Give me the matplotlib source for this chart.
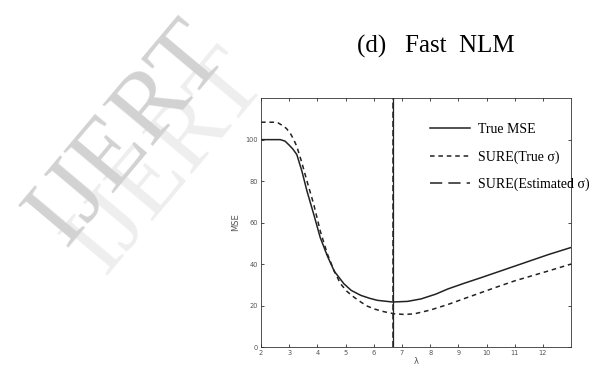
import numpy as np
import matplotlib.pyplot as plt
from matplotlib.lines import Line2D

# values
lam_true = [2.0, 2.68, 2.85, 2.98, 3.12, 3.27, 3.45, 3.63, 3.87, 4.1, 4.35, 4.6, 4.94,
            5.2, 5.54, 5.85, 6.13, 6.67, 7.2, 7.68, 8.2, 8.63, 9.2, 9.82, 10.4, 11.0,
            11.6, 12.2, 13.0]
mse_true = [100, 100, 99.3, 97.6, 95.6, 92.8, 84.8, 75.2, 64, 52.8, 44, 36.5, 30.5,
            27.3, 24.9, 23.5, 22.5, 21.7, 22.0, 23.2, 25.5, 28, 30.7, 33.5, 36.2, 39,
            41.8, 44.6, 48]

lam_sure = [2.0, 2.44, 2.6, 2.74, 2.9, 3.04, 3.15, 3.27, 3.45, 3.63, 3.87, 4.1, 4.35,
            4.6, 4.82, 5.05, 5.3, 5.55, 5.77, 6.05, 6.37, 6.73, 7.1, 7.44, 8.0, 8.63,
            9.2, 9.82, 10.4, 11.0, 11.6, 12.2, 13.0]
mse_sure = [108.4, 108.4, 108.1, 107, 105.4, 103, 100.3, 96.7, 88.8, 80, 68.8, 56, 45,
            36.5, 30.5, 26.8, 24, 21.6, 19.7, 18.2, 17, 16, 15.7, 16, 17.8, 20.5, 23.3,
            26.3, 29.1, 31.9, 34.3, 36.7, 40]

lam_opt = 6.67
xticks = list(range(2, 13))
yticks = [0, 20, 40, 60, 80, 100]

fig = plt.figure(figsize=(5.98, 3.69), dpi=100)

# watermark
fig.text(0.28, 0.56, 'IJERT', fontsize=72, family='Liberation Serif', color='#eeeeee',
         rotation=50, ha='center', va='center')
fig.text(0.215, 0.635, 'IJERT', fontsize=72, family='Liberation Serif', color='#d2d2d2',
         rotation=50, ha='center', va='center')

fig.text(0.729, 0.873, '(d)   Fast  NLM', fontsize=18, family='Liberation Serif',
         ha='center', va='center')

ax = fig.add_axes([0.4365, 0.0596, 0.5185, 0.6744])
ax.patch.set_alpha(0)
c = '#222222'
ax.plot(lam_true, mse_true, color=c, lw=1.1)
ax.plot(lam_sure, mse_sure, color=c, lw=1.1, ls=(0, (3, 2.5)))
ax.axvline(lam_opt, color=c, lw=0.9)
ax.axvline(lam_opt, color=c, lw=1.1, ls=(0, (4, 2)))

ax.set_xlim(2, 13)
ax.set_ylim(0, 120)
ax.set_xticks(xticks)
ax.set_yticks(yticks)
ax.tick_params(direction='in', length=2, width=0.5, labelsize=4.8, labelcolor='#555555',
               top=True, right=True, pad=2)
for s in ax.spines.values():
    s.set_linewidth(0.6)
    s.set_color('#333333')
ax.set_xlabel('λ', fontsize=6, color='#555555', labelpad=1)
ax.set_ylabel('MSE', fontsize=6, color='#555555', labelpad=4)

handles = [Line2D([], [], color=c, lw=1.1),
           Line2D([], [], color=c, lw=1.1, ls=(0, (3, 2.5))),
           Line2D([], [], color=c, lw=1.1, ls=(0, (8, 4)))]
labels = ['True MSE', 'SURE(True σ)', 'SURE(Estimated σ)']
fig.legend(handles, labels, loc='upper left', bbox_to_anchor=(0.707, 0.685),
           frameon=False, prop={'family': 'Liberation Serif', 'size': 10},
           handlelength=2.9, labelspacing=1.0, handletextpad=0.6, borderpad=0)

fig.savefig('out.png', dpi=100)
